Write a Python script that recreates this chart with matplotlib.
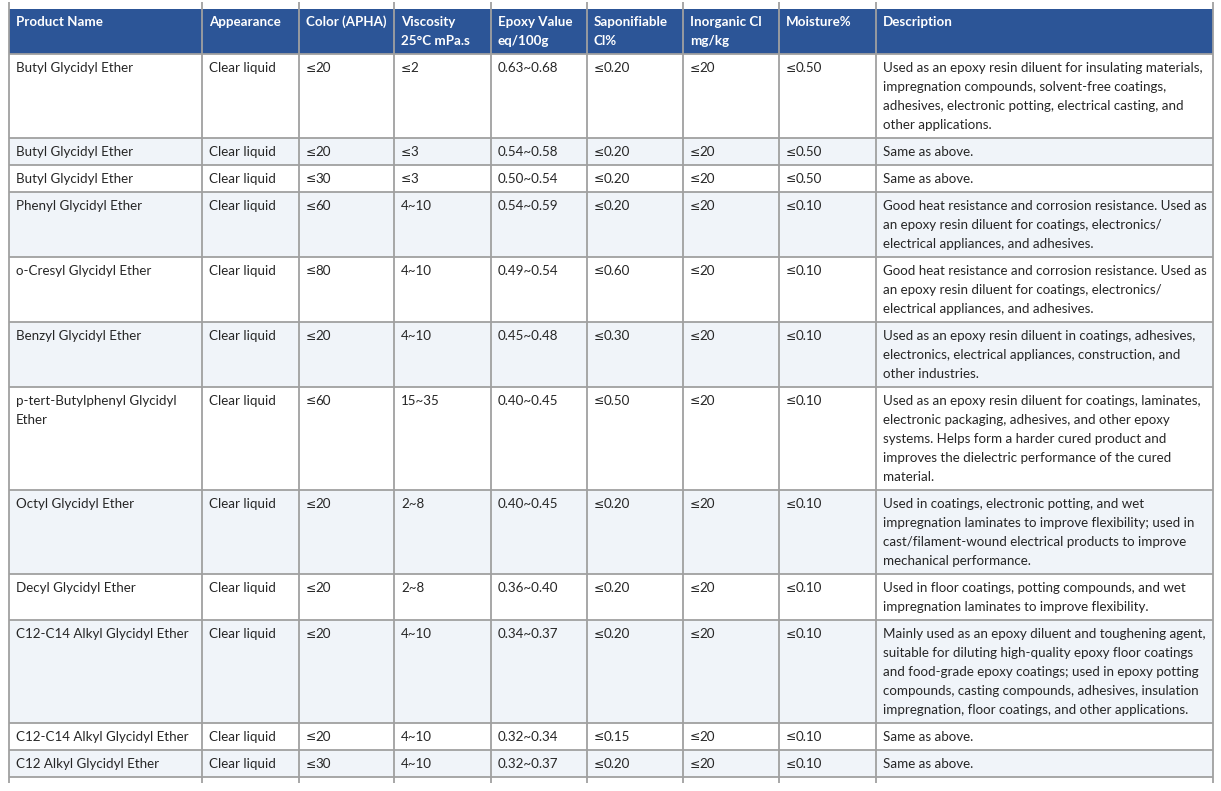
import matplotlib
matplotlib.use("Agg")
import matplotlib.pyplot as plt
from matplotlib.patches import Rectangle

plt.rcParams['font.family'] = ['Lato', 'DejaVu Sans']

headers = ["Product Name", "Appearance", "Color (APHA)", "Viscosity\n25°C mPa.s",
           "Epoxy Value\neq/100g", "Saponifiable\nCl%", "Inorganic Cl\nmg/kg", "Moisture%", "Description"]

product_names = ["Butyl Glycidyl Ether", "Butyl Glycidyl Ether", "Butyl Glycidyl Ether",
                 "Phenyl Glycidyl Ether", "o-Cresyl Glycidyl Ether", "Benzyl Glycidyl Ether",
                 "p-tert-Butylphenyl Glycidyl\nEther", "Octyl Glycidyl Ether", "Decyl Glycidyl Ether",
                 "C12-C14 Alkyl Glycidyl Ether", "C12-C14 Alkyl Glycidyl Ether", "C12 Alkyl Glycidyl Ether"]
appearance = ["Clear liquid"] * 12
color_apha = ["≤20", "≤20", "≤30", "≤60", "≤80", "≤20", "≤60", "≤20", "≤20", "≤20", "≤20", "≤30"]
viscosity = ["≤2", "≤3", "≤3", "4~10", "4~10", "4~10", "15~35", "2~8", "2~8", "4~10", "4~10", "4~10"]
epoxy_value = ["0.63~0.68", "0.54~0.58", "0.50~0.54", "0.54~0.59", "0.49~0.54", "0.45~0.48",
               "0.40~0.45", "0.40~0.45", "0.36~0.40", "0.34~0.37", "0.32~0.34", "0.32~0.37"]
saponifiable_cl = ["≤0.20", "≤0.20", "≤0.20", "≤0.20", "≤0.60", "≤0.30", "≤0.50", "≤0.20",
                   "≤0.20", "≤0.20", "≤0.15", "≤0.20"]
inorganic_cl = ["≤20"] * 12
moisture = ["≤0.50", "≤0.50", "≤0.50", "≤0.10", "≤0.10", "≤0.10", "≤0.10", "≤0.10",
            "≤0.10", "≤0.10", "≤0.10", "≤0.10"]
description = [
    "Used as an epoxy resin diluent for insulating materials,\nimpregnation compounds, solvent-free coatings,\nadhesives, electronic potting, electrical casting, and\nother applications.",
    "Same as above.",
    "Same as above.",
    "Good heat resistance and corrosion resistance. Used as\nan epoxy resin diluent for coatings, electronics/\nelectrical appliances, and adhesives.",
    "Good heat resistance and corrosion resistance. Used as\nan epoxy resin diluent for coatings, electronics/\nelectrical appliances, and adhesives.",
    "Used as an epoxy resin diluent in coatings, adhesives,\nelectronics, electrical appliances, construction, and\nother industries.",
    "Used as an epoxy resin diluent for coatings, laminates,\nelectronic packaging, adhesives, and other epoxy\nsystems. Helps form a harder cured product and\nimproves the dielectric performance of the cured\nmaterial.",
    "Used in coatings, electronic potting, and wet\nimpregnation laminates to improve flexibility; used in\ncast/filament-wound electrical products to improve\nmechanical performance.",
    "Used in floor coatings, potting compounds, and wet\nimpregnation laminates to improve flexibility.",
    "Mainly used as an epoxy diluent and toughening agent,\nsuitable for diluting high-quality epoxy floor coatings\nand food-grade epoxy coatings; used in epoxy potting\ncompounds, casting compounds, adhesives, insulation\nimpregnation, floor coatings, and other applications.",
    "Same as above.",
    "Same as above.",
]

columns = [product_names, appearance, color_apha, viscosity, epoxy_value,
           saponifiable_cl, inorganic_cl, moisture, description]

# layout (pixels)
W, H = 1221, 791
col_edges = [9, 202, 299, 394, 491, 587, 683, 779, 876, 1213]
top = 9
header_h = 45
line_h = 19
pad = 8

HEADER_BG = "#2c5597"
ALT_BG = "#f0f4f9"
GRID = "#a0a0a0"
TEXT = "#262626"
FS = 9.6

fig = plt.figure(figsize=(W / 100, H / 100), dpi=100)
ax = fig.add_axes([0, 0, 1, 1])
ax.set_xlim(0, W)
ax.set_ylim(H, 0)
ax.axis("off")
renderer = fig.canvas.get_renderer()


def draw_cell(x, y, text, color, weight="normal"):
    for k, line in enumerate(text.split("\n")):
        yy = y + k * line_h
        if line.startswith("≤"):
            t = ax.text(x, yy, "≤", color=color, fontsize=FS * 0.92, fontweight=weight,
                        family=["DejaVu Sans"], va="center", ha="left", zorder=3)
            bb = t.get_window_extent(renderer)
            ax.text(x + bb.width - 1, yy, line[1:], color=color, fontsize=FS,
                    fontweight=weight, va="center", ha="left", zorder=3)
        else:
            ax.text(x, yy, line, color=color, fontsize=FS, fontweight=weight,
                    va="center", ha="left", zorder=3)


# header
ax.add_patch(Rectangle((col_edges[0], top), col_edges[-1] - col_edges[0], header_h,
                       facecolor=HEADER_BG, edgecolor="none", zorder=1))
for j, h in enumerate(headers):
    draw_cell(col_edges[j] + 7, top + 13, h, "white", "bold")

# rows
y = top + header_h
row_edges = [top, y]
for i in range(len(product_names)):
    nlines = max(str(col[i]).count("\n") + 1 for col in columns)
    rh = pad + line_h * nlines
    if i % 2 == 1:
        ax.add_patch(Rectangle((col_edges[0], y), col_edges[-1] - col_edges[0], rh,
                               facecolor=ALT_BG, edgecolor="none", zorder=1))
    for j, col in enumerate(columns):
        draw_cell(col_edges[j] + 7, y + 14, col[i], TEXT)
    y += rh
    row_edges.append(y)

# grid lines
for ye in row_edges[1:]:
    ax.plot([col_edges[0], col_edges[-1]], [ye, ye], color=GRID, lw=1.3, zorder=2,
            solid_capstyle="butt")
for xe in col_edges:
    ax.plot([xe, xe], [2, row_edges[-1] + 6], color=GRID, lw=1.3, zorder=2,
            solid_capstyle="butt")

fig.savefig("out.png", dpi=100, facecolor="white")
